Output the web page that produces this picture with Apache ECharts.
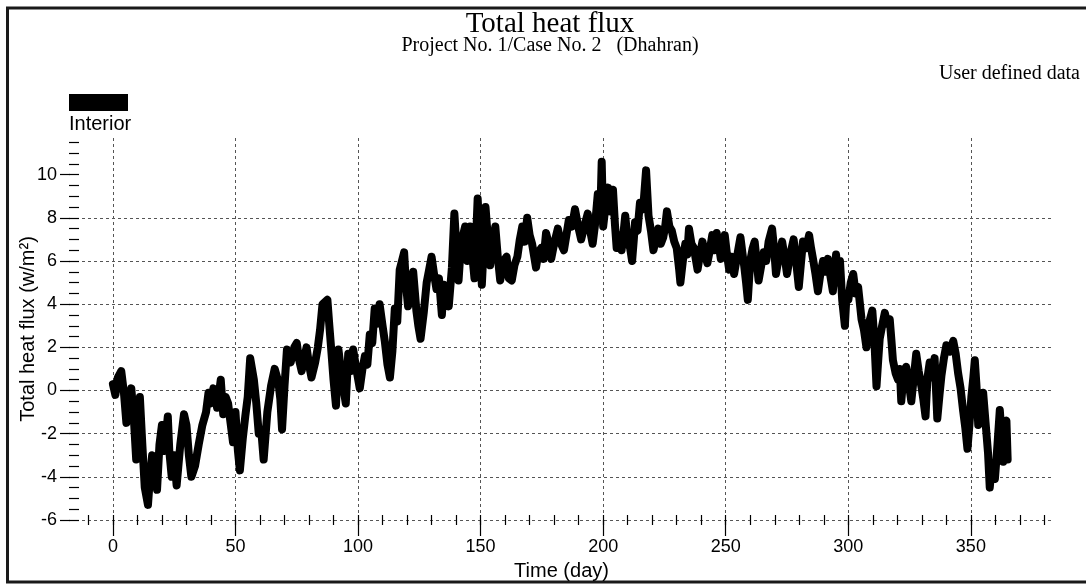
<!DOCTYPE html>
<html>
<head>
<meta charset="utf-8">
<script src="https://cdn.jsdelivr.net/npm/echarts@6/dist/echarts.min.js"></script>
<style>
html,body{margin:0;padding:0;background:#fff;}
#chart{width:1086px;height:585px;}
</style>
</head>
<body>
<div id="chart"></div>
<script>
// ---- data ----
const days = [
  0,1,2,3.4,4.5,5.5,6.5,7.5,8.5,9.5,10.5,11,12,13,14.3,15,16,17,18,19,20,21,22.4,23,24,25,26,27.5,29,30,
  31,32,33.5,35,36.5,38,39,40,41,42.5,44,45,46,47,48,49,50,51,51.8,53,54,55,56,57.5,58.5,59.5,60.5,61.5,63,64.5,
  66,67.5,68.3,69,70,71,72.5,74,75,76,77,78,79,80,81,82.5,83.6,84.5,85.5,87.5,88.3,89,90,91,92,93.5,95,96,97,98,
  99,100.7,101.8,102.8,103.8,104.8,105.8,106.8,108,108.8,110,110.9,112,113,114,115,116,117,118.8,119.5,120.4,121.5,122.5,123.8,124.6,125.5,126.8,128,129,130,
  131,132,133,134.2,135,136,137,138.3,139.3,140.2,141,142,143.7,144.6,145.7,146.5,147.5,148.8,149.7,150.5,151.2,152,153,153.9,155,156,157,158,159.3,160.6,
  161.5,162.7,163.8,165,166,167,168,169,170,171,172.6,173.6,174.7,175.7,176.7,177.8,178.8,180,181.5,182.8,184,185,186,187.3,188.5,189.8,191,192.3,193.7,194.7,
  195.7,196.8,197.8,198.8,199.4,200,201,202,203,204,204.8,205.5,206.5,207.5,208.3,209,210,211,211.8,212.5,213,214,215,216.3,217.5,218.5,219.5,220.5,221.5,222.5,
  223.5,224.5,225.3,226,227,228,229,230,231,231.5,232.5,233.5,234.3,235,236,237,238.5,239.5,240.5,241.5,242.5,243.5,244.5,245.4,246.3,247.2,248,249,249.6,250.5,
  251.4,252.4,253.4,254.6,256,257,257.5,258.3,259,260,261,261.8,262.6,263.4,264.5,265.5,266.5,267.5,268.9,269.7,270.5,271.8,273,274,275,276.3,277.7,278.7,279.8,280.6,
  281.5,282.8,284,284.8,285.6,286.6,287.6,288.6,289.7,290.7,291.7,292.7,293.7,295,296,296.6,297.5,298.6,299.2,300,301,302,303,304,305.4,306.4,307.4,308.6,309.8,310.6,
  311.5,312.2,312.8,313.8,314.9,315.9,316.9,317.6,318.2,319.3,320.3,321,321.6,322.6,323.6,324.6,325.7,326.7,327.7,328.7,329.8,330.6,331.5,332.3,333.2,334.2,335.2,336.3,337.2,338,
  339,340,341.4,342.8,343.8,344.8,345.8,346.8,347.7,348.6,349.4,350.2,351,351.6,352.3,353,354,355,356,357,357.7,358.6,359.8,360.8,361.8,362.5,363.2,364,364.5,365
];
const flux = [
  0.3,-0.2,0.6,0.9,-0.1,-1.5,-0.5,0.1,-1.2,-3.2,-1.0,-0.3,-2.5,-4.5,-5.3,-4.2,-3.0,-3.5,-4.6,-2.5,-1.6,-2.8,-1.2,-2.8,-4.0,-3.0,-4.4,-2.5,-1.1,-1.6,
  -3.0,-4.0,-3.5,-2.5,-1.6,-1.0,-0.1,-0.6,0.1,-0.8,0.5,-1.1,-0.3,-0.6,-1.5,-2.4,-1.0,-2.8,-3.7,-2.2,-1.2,-0.3,1.5,0.5,-0.6,-2.0,-1.8,-3.2,-1.0,0.2,
  1.0,0.4,-0.4,-1.8,0.2,1.9,1.3,2.0,2.2,1.4,0.9,1.5,2.0,1.2,0.6,1.3,2.0,2.8,4.0,4.2,3.0,2.0,0.5,-0.7,1.9,0.5,-0.6,1.7,0.9,1.9,
  1.2,0.1,1.0,1.6,1.2,2.6,2.2,3.8,3.1,4.0,3.0,2.3,1.2,0.6,1.8,3.8,3.2,5.6,6.4,5.0,3.9,4.6,5.5,3.7,3.0,2.4,3.6,5.0,5.6,6.2,
  5.4,4.7,5.2,3.5,4.9,4.2,3.9,5.7,8.2,6.5,5.1,6.8,7.6,6.0,7.6,6.4,5.2,8.9,6.8,4.9,6.5,8.5,7.0,5.8,6.9,7.6,6.2,5.1,6.0,6.2,
  5.2,5.1,5.8,6.2,7.0,7.6,6.9,8.0,7.2,6.8,5.7,6.4,6.6,6.1,7.3,6.8,6.1,6.8,7.5,6.8,6.5,7.2,7.9,7.6,8.4,7.6,7.0,7.6,8.2,7.4,
  6.8,7.8,9.1,8.0,10.6,7.6,8.6,9.4,8.3,9.3,7.7,6.6,7.2,6.5,7.3,8.1,6.9,6.6,6.0,7.0,7.8,7.4,8.7,8.4,10.2,8.1,7.4,6.5,7.0,7.5,
  6.8,7.1,7.6,8.3,7.6,7.4,6.9,6.6,5.6,5.0,6.0,6.8,6.3,7.5,6.8,6.6,5.6,6.3,6.9,6.3,5.9,6.5,7.2,6.5,7.3,6.7,6.1,6.7,7.2,6.3,
  5.6,6.2,5.4,6.2,7.1,6.2,5.8,5.0,4.2,6.0,6.6,6.9,6.0,5.1,5.8,6.4,6.0,6.9,7.5,6.6,5.4,6.3,6.9,6.2,5.4,6.3,7.0,6.0,4.8,5.8,
  6.9,6.6,7.2,6.6,6.1,5.4,4.6,5.4,6.0,5.5,6.1,5.3,4.6,6.3,5.0,6.0,4.2,3.0,4.3,4.2,5.0,5.4,4.5,4.8,3.3,2.8,2.0,3.2,3.7,2.4,
  0.2,1.4,2.4,3.0,3.6,3.1,3.3,2.3,1.4,0.8,0.5,1.0,-0.5,0.8,1.1,0.4,-0.5,0.6,1.7,0.9,0.2,-0.4,-1.2,0.6,1.3,0.6,1.5,-1.3,-0.2,0.7,
  1.5,2.1,1.8,2.3,1.7,0.8,0.1,-0.9,-1.7,-2.7,-1.6,-0.3,0.6,1.4,0.2,-1.6,-0.8,-0.1,-1.5,-2.9,-4.5,-3.4,-4.1,-2.6,-0.9,-2.0,-3.3,-1.5,-1.4,-3.2
];
const xMajorTicks = [0, 50, 100, 150, 200, 250, 300, 350];
const xMinorTicks = [-10,0,10,20,30,40,50,60,70,80,90,100,110,120,130,140,150,160,170,180,190,200,210,220,230,240,250,260,270,280,290,300,310,320,330,340,350,360,370,380];
const yMajorTicks = [-6, -4, -2, 0, 2, 4, 6, 8, 10];
const yMinorTicks = [-6,-5.5,-5,-4.5,-4,-3.5,-3,-2.5,-2,-1.5,-1,-0.5,0,0.5,1,1.5,2,2.5,3,3.5,4,4.5,5,5.5,6,6.5,7,7.5,8,8.5,9,9.5,10,10.5,11,11.5];
const titleText = 'Total heat flux';
const subtitleText = 'Project No. 1/Case No. 2   (Dhahran)';
const noteText = 'User defined data';
const seriesName = 'Interior';
const xName = 'Time (day)';
const yName = 'Total heat flux (w/m\u00B2)';

const points = days.map((d, i) => [d, flux[i]]);

const chart = echarts.init(document.getElementById('chart'), null, {renderer: 'canvas'});
const sans = 'Liberation Sans, Arial, sans-serif';
const serif = 'Liberation Serif, Times New Roman, serif';
const XMIN = -17.5, XMAX = 383.5, YMIN = -6, YMAX = 11.7;
const dashed = {type: [3, 3], color: '#555', width: 1};

chart.setOption({
  animation: false,
  backgroundColor: '#fff',
  grid: {left: 70, right: 33, top: 138, bottom: 65, containLabel: false, outerBoundsMode: 'none'},
  xAxis: [
    {
      type: 'value', min: XMIN, max: XMAX, position: 'bottom',
      axisLine: {show: false, onZero: false},
      axisTick: {show: true, customValues: xMajorTicks, length: 16, inside: false, lineStyle: {color: '#000', width: 1.2}},
      axisLabel: {show: true, customValues: xMajorTicks, margin: 18, fontSize: 18, color: '#000', fontFamily: sans},
      splitLine: {show: true, lineStyle: dashed},
      name: xName, nameLocation: 'middle', nameGap: 41, nameMoveOverlap: false,
      nameTextStyle: {fontSize: 20, color: '#000', fontFamily: sans}
    },
    {
      type: 'value', min: XMIN, max: XMAX, position: 'bottom', offset: 5,
      axisLine: {show: false, onZero: false},
      axisTick: {show: true, customValues: xMinorTicks, length: 10, inside: true, lineStyle: {color: '#000', width: 1.2}},
      axisLabel: {show: false},
      splitLine: {show: false}
    }
  ],
  yAxis: [
    {
      type: 'value', min: YMIN, max: YMAX, position: 'left',
      axisLine: {show: false, onZero: false},
      axisTick: {show: true, customValues: yMajorTicks, length: 10, inside: false, lineStyle: {color: '#000', width: 1.2}},
      axisLabel: {show: true, customValues: yMajorTicks, margin: 13, fontSize: 18, color: '#000', fontFamily: sans},
      splitLine: {show: true, showMaxLine: false, lineStyle: dashed},
      name: yName, nameLocation: 'middle', nameGap: 32, nameRotate: 90, nameMoveOverlap: false,
      nameTextStyle: {fontSize: 20, color: '#000', fontFamily: sans}
    },
    {
      type: 'value', min: YMIN, max: YMAX, position: 'left', offset: 1,
      axisLine: {show: false, onZero: false},
      axisTick: {show: true, customValues: yMinorTicks, length: 10, inside: true, lineStyle: {color: '#000', width: 1.2}},
      axisLabel: {show: false},
      splitLine: {show: false}
    }
  ],
  series: [
    {
      name: seriesName,
      type: 'line',
      xAxisIndex: 0, yAxisIndex: 0,
      data: points,
      showSymbol: false, symbol: 'none',
      lineStyle: {color: '#000', width: 8, join: 'round', cap: 'round'},
      itemStyle: {color: '#000'},
      silent: true
    }
  ],
  graphic: [
    {type: 'rect', shape: {x: 7.5, y: 8, width: 1100, height: 574}, style: {fill: 'none', stroke: '#1a1a1a', lineWidth: 3}, silent: true},
    {type: 'text', x: 550, y: 24, style: {text: titleText, font: '29px ' + serif, fill: '#000', textAlign: 'center', textVerticalAlign: 'middle'}},
    {type: 'text', x: 550, y: 46, style: {text: subtitleText, font: '20px ' + serif, fill: '#000', textAlign: 'center', textVerticalAlign: 'middle'}},
    {type: 'text', x: 1080, y: 74, style: {text: noteText, font: '20px ' + serif, fill: '#000', textAlign: 'right', textVerticalAlign: 'middle'}},
    {type: 'rect', shape: {x: 69, y: 94, width: 59, height: 17}, style: {fill: '#000'}},
    {type: 'text', x: 69, y: 124, style: {text: seriesName, font: '20px ' + sans, fill: '#000', textAlign: 'left', textVerticalAlign: 'middle'}}
  ]
});
</script>
</body>
</html>
